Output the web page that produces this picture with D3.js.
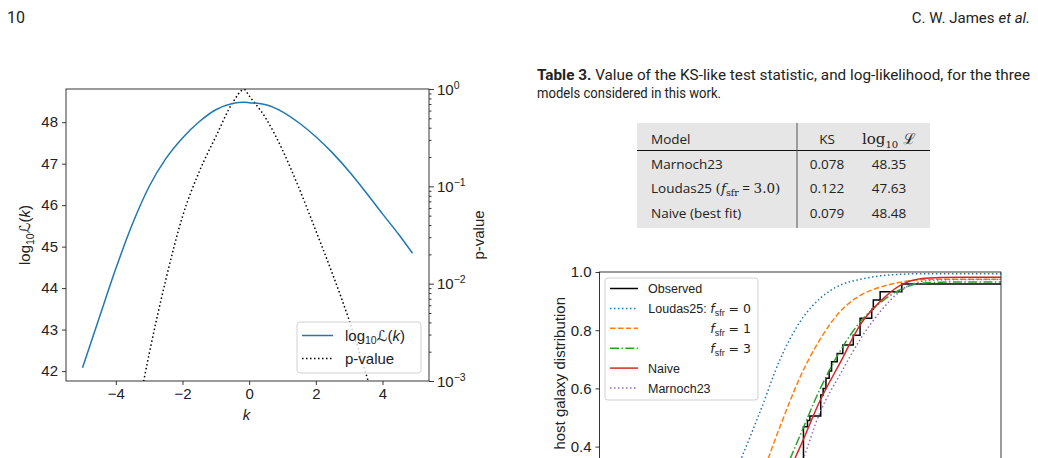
<!DOCTYPE html>
<html>
<head>
<meta charset="utf-8">
<script src="https://cdn.jsdelivr.net/npm/d3@7"></script>
<style>
  html, body { margin: 0; padding: 0; background: #fff; overflow: hidden; }
  svg { display: block; }
</style>
</head>
<body>
<div id="page"></div>
<script>
// ---- left panel: likelihood and p-value against k ----
const kValues = [-5, -4.5, -4, -3.5, -3, -2.5, -2, -1.5, -1, -0.5, -0.15, 0, 0.5, 1, 1.5, 2, 2.5, 3, 3.5, 4, 4.5, 4.9];
const logLike = [42.08, 43.28, 44.47, 45.55, 46.45, 47.12, 47.62, 48.01, 48.30, 48.45, 48.48, 48.47, 48.42, 48.25, 47.98, 47.65, 47.26, 46.81, 46.31, 45.79, 45.28, 44.84];
const pValues = [3e-7, 3e-6, 3e-5, 2.5e-4, 1.9e-3, 1.1e-2, 0.049, 0.141, 0.324, 0.72, 0.99, 0.85, 0.50, 0.236, 0.095, 0.035, 0.0126, 0.0042, 0.0012, 3.2e-4, 8e-5, 2.5e-5];
const kTicks = [-4, -2, 0, 2, 4];
const likeTicks = [42, 43, 44, 45, 46, 47, 48];
const pTicks = [1e-3, 1e-2, 1e-1, 1];
const pTickExp = ["\u22123", "\u22122", "\u22121", "0"];

// ---- right panel: cumulative host galaxy distribution ----
const cdfX = [0, 1, 2, 2.5, 3, 3.5, 4, 4.5, 5, 5.5, 6, 6.5, 7, 7.5, 8, 8.5, 9, 10];
const loudasF0 = [0, 0.005, 0.04, 0.10, 0.20, 0.35, 0.52, 0.70, 0.83, 0.91, 0.955, 0.975, 0.987, 0.992, 0.994, 0.994, 0.994, 0.994];
const loudasF1 = [0, 0.002, 0.01, 0.03, 0.08, 0.17, 0.29, 0.47, 0.64, 0.77, 0.865, 0.92, 0.948, 0.965, 0.973, 0.975, 0.975, 0.975];
const loudasF3 = [0, 0, 0.005, 0.01, 0.02, 0.06, 0.14, 0.28, 0.44, 0.60, 0.73, 0.83, 0.895, 0.94, 0.961, 0.965, 0.966, 0.966];
const naive = [0, 0, 0.005, 0.01, 0.03, 0.06, 0.12, 0.25, 0.40, 0.56, 0.69, 0.82, 0.90, 0.955, 0.977, 0.981, 0.982, 0.982];
const marnoch23 = [0, 0, 0.003, 0.008, 0.02, 0.04, 0.08, 0.18, 0.33, 0.52, 0.65, 0.77, 0.865, 0.935, 0.967, 0.973, 0.974, 0.974];
const obsX = [3.6, 4.0, 4.37, 4.62, 4.79, 4.92, 4.99, 5.08, 5.18, 5.24, 5.51, 5.57, 5.64, 5.72, 5.78, 5.92, 6.06, 6.32, 6.49, 6.78, 6.82, 6.99, 7.53, 10];
const obsCdf = [0, 0.031, 0.094, 0.156, 0.219, 0.281, 0.344, 0.468, 0.49, 0.505, 0.577, 0.60, 0.635, 0.66, 0.692, 0.72, 0.749, 0.783, 0.841, 0.872, 0.904, 0.932, 0.959, 0.959];
const cdfTicks = [0.4, 0.6, 0.8, 1.0];

// ---- table 3 ----
const tableModels = ["Marnoch23", "Loudas25", "Naive (best fit)"];
const tableKS = ["0.078", "0.122", "0.079"];
const tableLogL = ["48.35", "47.63", "48.48"];

const sans = "'Liberation Sans', Arial, sans-serif";
const pageFont = "Roboto, 'Open Sans', sans-serif";
const tableFont = "'Open Sans', 'Noto Sans', sans-serif";
const serif = "'DejaVu Serif', 'Liberation Serif', serif";

const svg = d3.select("#page").append("svg")
  .attr("width", 1038)
  .attr("height", 458);

// page header
svg.append("text")
  .attr("x", 7).attr("y", 23)
  .style("font-family", pageFont).style("font-size", "16px").attr("fill", "#222")
  .text("10");
const etal = svg.append("text")
  .attr("x", 1030).attr("y", 23).attr("text-anchor", "end")
  .style("font-family", pageFont).style("font-size", "15px").style("font-style", "italic").attr("fill", "#222")
  .text("et al.");
svg.append("text")
  .attr("x", 1030 - etal.node().getComputedTextLength() - 4).attr("y", 23).attr("text-anchor", "end")
  .style("font-family", pageFont).style("font-size", "15px").attr("fill", "#222")
  .text("C. W. James");

// ================= left panel =================
const L = { left: 66, right: 429, top: 89, bottom: 381 };
const xL = d3.scaleLinear().domain([-5.495, 5.395]).range([L.left, L.right]);
const yL = d3.scaleLinear().domain([41.76, 48.8]).range([L.bottom, L.top]);
const yP = d3.scaleLog().domain([1e-3, 1]).range([L.bottom, L.top]);

const defs = svg.append("defs");
defs.append("clipPath").attr("id", "clipL").append("rect")
  .attr("x", L.left).attr("y", L.top).attr("width", L.right - L.left).attr("height", L.bottom - L.top);

const gL = svg.append("g");

gL.append("path")
  .datum(kValues.map((k, i) => [k, pValues[i]]))
  .attr("clip-path", "url(#clipL)")
  .attr("fill", "none").attr("stroke", "#000").attr("stroke-width", 1.5)
  .attr("stroke-dasharray", "1.5,2.5")
  .attr("d", d3.line().x(d => xL(d[0])).y(d => yP(d[1])).curve(d3.curveMonotoneX));

gL.append("path")
  .datum(kValues.map((k, i) => [k, logLike[i]]))
  .attr("clip-path", "url(#clipL)")
  .attr("fill", "none").attr("stroke", "#1f77b4").attr("stroke-width", 1.5)
  .attr("d", d3.line().x(d => xL(d[0])).y(d => yL(d[1])).curve(d3.curveMonotoneX));

gL.append("rect")
  .attr("x", L.left).attr("y", L.top).attr("width", L.right - L.left).attr("height", L.bottom - L.top)
  .attr("fill", "none").attr("stroke", "#222").attr("stroke-width", 0.9);

function styleAxis(g) {
  g.select(".domain").remove();
  g.selectAll("line").attr("stroke", "#222").attr("stroke-width", 0.9);
  g.selectAll("text").style("font-family", sans).style("font-size", "15px").attr("fill", "#222");
}

gL.append("g").attr("transform", `translate(0,${L.bottom})`)
  .call(d3.axisBottom(xL).tickValues(kTicks).tickSize(4).tickPadding(3))
  .call(styleAxis);

gL.append("g").attr("transform", `translate(${L.left},0)`)
  .call(d3.axisLeft(yL).tickValues(likeTicks).tickFormat(d3.format("d")).tickSize(4).tickPadding(4))
  .call(styleAxis);

// log axis on the right
const minorP = [];
[1e-3, 1e-2, 1e-1].forEach(b => { for (let m = 2; m <= 9; m++) minorP.push(b * m); });
gL.append("g").attr("transform", `translate(${L.right},0)`)
  .call(d3.axisRight(yP).tickValues(minorP).tickSize(2.5).tickFormat(""))
  .call(styleAxis);
const pAxis = gL.append("g").attr("transform", `translate(${L.right},0)`)
  .call(d3.axisRight(yP).tickValues(pTicks).tickSize(5).tickFormat(""))
  .call(styleAxis);
pAxis.selectAll(".tick").each(function(d, i) {
  const t = d3.select(this).append("text")
    .attr("x", 8).attr("y", 5)
    .style("font-family", sans).style("font-size", "15px").attr("fill", "#222");
  t.append("tspan").text("10");
  t.append("tspan").attr("dy", -6).style("font-size", "10.5px").text(pTickExp[i]);
});

// axis labels
gL.append("text")
  .attr("x", (L.left + L.right) / 2 - 1).attr("y", 420).attr("text-anchor", "middle")
  .style("font-family", sans).style("font-size", "15px").style("font-style", "italic").attr("fill", "#222")
  .text("k");

const yLab = gL.append("text")
  .attr("transform", `translate(30,${(L.top + L.bottom) / 2}) rotate(-90)`)
  .attr("text-anchor", "middle")
  .style("font-family", sans).style("font-size", "15px").attr("fill", "#222");
yLab.append("tspan").text("log");
yLab.append("tspan").attr("dy", 3.5).style("font-size", "10.5px").text("10");
yLab.append("tspan").attr("dy", -3.5).style("font-family", "'DejaVu Sans'").text("\u2112");
yLab.append("tspan").text("(");
yLab.append("tspan").style("font-style", "italic").text("k");
yLab.append("tspan").text(")");

gL.append("text")
  .attr("transform", `translate(484,${(L.top + L.bottom) / 2}) rotate(-90)`)
  .attr("text-anchor", "middle")
  .style("font-family", sans).style("font-size", "15px").attr("fill", "#222")
  .text("p-value");

// legend
const legL = gL.append("g");
legL.append("rect")
  .attr("x", 297).attr("y", 322).attr("width", 124).attr("height", 51).attr("rx", 3)
  .attr("fill", "#fff").attr("fill-opacity", 0.8).attr("stroke", "#ccc").attr("stroke-width", 0.9);
legL.append("line").attr("x1", 302).attr("x2", 333).attr("y1", 335.5).attr("y2", 335.5)
  .attr("stroke", "#1f77b4").attr("stroke-width", 1.5);
legL.append("line").attr("x1", 302).attr("x2", 333).attr("y1", 358.5).attr("y2", 358.5)
  .attr("stroke", "#000").attr("stroke-width", 1.5).attr("stroke-dasharray", "1.5,2.5");
const lt = legL.append("text").attr("x", 345).attr("y", 340.5)
  .style("font-family", sans).style("font-size", "15px").attr("fill", "#222");
lt.append("tspan").text("log");
lt.append("tspan").attr("dy", 3.5).style("font-size", "10.5px").text("10");
lt.append("tspan").attr("dy", -3.5).style("font-family", "'DejaVu Sans'").text("\u2112");
lt.append("tspan").text("(");
lt.append("tspan").style("font-style", "italic").text("k");
lt.append("tspan").text(")");
legL.append("text").attr("x", 345).attr("y", 364)
  .style("font-family", sans).style("font-size", "15px").attr("fill", "#222")
  .text("p-value");

// ================= table 3 =================
const cap1 = svg.append("text").attr("x", 537).attr("y", 80)
  .attr("textLength", 493).attr("lengthAdjust", "spacingAndGlyphs")
  .style("font-family", pageFont).style("font-size", "14px").attr("fill", "#222");
cap1.append("tspan").style("font-weight", "bold").text("Table 3.");
cap1.append("tspan").text(" Value of the KS-like test statistic, and log-likelihood, for the three");
svg.append("text").attr("x", 537).attr("y", 98)
  .attr("textLength", 184).attr("lengthAdjust", "spacingAndGlyphs")
  .style("font-family", pageFont).style("font-size", "14px").attr("fill", "#222")
  .text("models considered in this work.");

const T = { left: 637, right: 930, top: 123, bottom: 228, split: 797, ksX: 827, lX: 889 };
const gT = svg.append("g");
gT.append("rect").attr("x", T.left).attr("y", T.top)
  .attr("width", T.right - T.left).attr("height", T.bottom - T.top).attr("fill", "#e6e6e6");
gT.append("line").attr("x1", T.left).attr("x2", T.right).attr("y1", 150.5).attr("y2", 150.5)
  .attr("stroke", "#111").attr("stroke-width", 1);
gT.append("line").attr("x1", T.split).attr("x2", T.split).attr("y1", T.top).attr("y2", T.bottom)
  .attr("stroke", "#555").attr("stroke-width", 1);

function cell(x, y, anchor) {
  return gT.append("text").attr("x", x).attr("y", y).attr("text-anchor", anchor)
    .style("font-family", tableFont).style("font-size", "13.5px").attr("fill", "#222");
}
cell(651, 144, "start").text("Model");
cell(T.ksX, 144, "middle").text("KS");
const hl = cell(T.lX, 144, "middle").style("font-family", serif).style("font-size", "15px");
hl.append("tspan").text("log");
hl.append("tspan").attr("dy", 4).style("font-size", "10px").text("10");
hl.append("tspan").attr("dy", -4).text(" \u2112");

const rowY = [169, 193, 218];
tableModels.forEach((m, i) => {
  const t = cell(651, rowY[i], "start");
  if (m === "Loudas25") {
    t.append("tspan").text("Loudas25 ");
    t.append("tspan").style("font-family", serif).text("(");
    t.append("tspan").style("font-family", serif).style("font-style", "italic").text("f");
    t.append("tspan").attr("dy", 3).style("font-family", serif).style("font-size", "9.5px").text("sfr");
    t.append("tspan").attr("dy", -3).text(" = ");
    t.append("tspan").style("font-family", serif).text("3.0)");
  } else {
    t.text(m);
  }
  cell(T.ksX, rowY[i], "middle").text(tableKS[i]);
  cell(T.lX, rowY[i], "middle").text(tableLogL[i]);
});

// ================= right panel =================
const R = { left: 599.5, right: 1001, top: 272, bottom: 563 };
const xR = d3.scaleLinear().domain([0, 10]).range([R.left, R.right]);
const yR = d3.scaleLinear().domain([0, 1]).range([R.bottom, R.top]);

defs.append("clipPath").attr("id", "clipR").append("rect")
  .attr("x", R.left).attr("y", R.top).attr("width", R.right - R.left).attr("height", R.bottom - R.top);

const gR = svg.append("g");

const models = [
  { name: "Loudas25 f0", values: loudasF0, color: "#1f77b4", dash: "1.5,2.5" },
  { name: "Loudas25 f1", values: loudasF1, color: "#ff7f0e", dash: "5.5,2.4" },
  { name: "Loudas25 f3", values: loudasF3, color: "#2ca02c", dash: "9,2.4,1.5,2.4" },
  { name: "Naive", values: naive, color: "#d62728", dash: null },
  { name: "Marnoch23", values: marnoch23, color: "#9467bd", dash: "1.5,2.5" }
];

const lineR = d3.line().x(d => xR(d[0])).y(d => yR(d[1])).curve(d3.curveMonotoneX);

gR.append("path")
  .datum(obsX.map((x, i) => [x, obsCdf[i]]))
  .attr("clip-path", "url(#clipR)")
  .attr("fill", "none").attr("stroke", "#000").attr("stroke-width", 1.5)
  .attr("d", d3.line().x(d => xR(d[0])).y(d => yR(d[1])).curve(d3.curveStepAfter));

models.forEach(m => {
  gR.append("path")
    .datum(cdfX.map((x, i) => [x, m.values[i]]))
    .attr("clip-path", "url(#clipR)")
    .attr("fill", "none").attr("stroke", m.color).attr("stroke-width", 1.5)
    .attr("stroke-dasharray", m.dash)
    .attr("d", lineR);
});

gR.append("rect")
  .attr("x", R.left).attr("y", R.top).attr("width", R.right - R.left).attr("height", R.bottom - R.top)
  .attr("fill", "none").attr("stroke", "#222").attr("stroke-width", 0.9);

gR.append("g").attr("transform", `translate(${R.left},0)`)
  .call(d3.axisLeft(yR).tickValues(cdfTicks).tickFormat(d3.format(".1f")).tickSize(4).tickPadding(4))
  .call(styleAxis);

gR.append("text")
  .attr("transform", `translate(565,297) rotate(-90)`)
  .attr("text-anchor", "end")
  .style("font-family", sans).style("font-size", "15px").attr("fill", "#222")
  .text("host galaxy distribution");

// legend
const legR = gR.append("g");
legR.append("rect")
  .attr("x", 605).attr("y", 278).attr("width", 153).attr("height", 122).attr("rx", 3)
  .attr("fill", "#fff").attr("fill-opacity", 0.8).attr("stroke", "#ccc").attr("stroke-width", 0.9);
const legRows = [
  { color: "#000", dash: null },
  models[0], models[1], models[2], models[3], models[4]
];
legRows.forEach((r, i) => {
  const y = 288.5 + i * 19.9;
  legR.append("line").attr("x1", 610).attr("x2", 638).attr("y1", y).attr("y2", y)
    .attr("stroke", r.color).attr("stroke-width", 1.5).attr("stroke-dasharray", r.dash);
});
function legText(i, x, anchor) {
  return legR.append("text").attr("x", x).attr("y", 288.5 + i * 19.9 + 4.5).attr("text-anchor", anchor)
    .style("font-family", sans).style("font-size", "12.5px").attr("fill", "#222");
}
legText(0, 648, "start").text("Observed");
[["Loudas25: ", "0"], ["", "1"], ["", "3"]].forEach(([pre, v], j) => {
  const t = legText(j + 1, 751, "end");
  if (pre) t.append("tspan").text(pre);
  t.append("tspan").style("font-style", "italic").style("font-family", "'DejaVu Sans'").text("f");
  t.append("tspan").attr("dy", 3).style("font-size", "9px").text("sfr");
  t.append("tspan").attr("dy", -3).style("font-family", "'DejaVu Sans'").text(" = " + v);
});
legText(4, 648, "start").text("Naive");
legText(5, 648, "start").text("Marnoch23");
</script>
</body>
</html>
